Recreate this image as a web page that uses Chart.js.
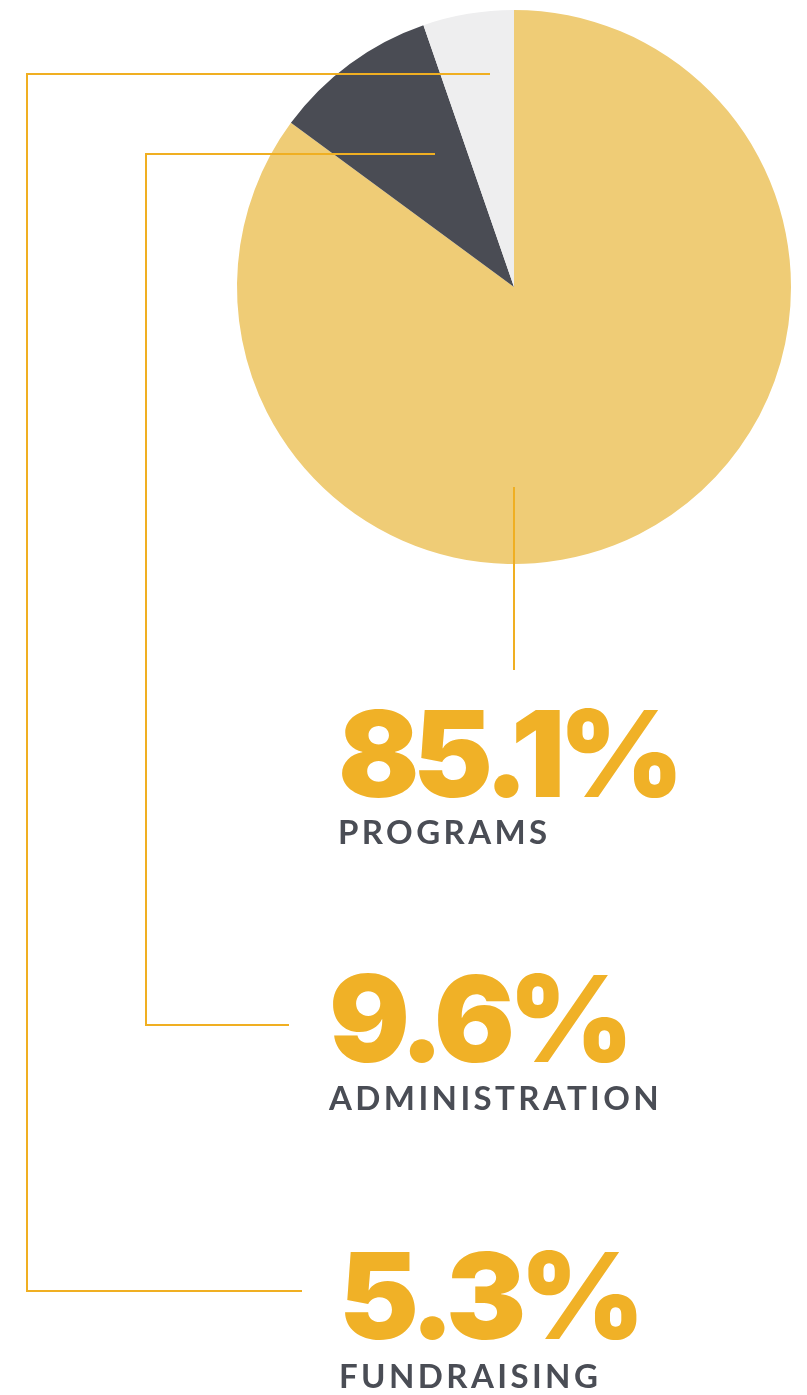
<!DOCTYPE html>
<html>
<head>
<meta charset="utf-8">
<script src="https://cdn.jsdelivr.net/npm/chart.js@4/dist/chart.umd.min.js"></script>
<style>
  html, body { margin: 0; padding: 0; background: #fff; }
  #wrap { position: relative; width: 807px; height: 1395px; overflow: hidden; }
  #pie { position: absolute; left: 0; top: 0; }
  .pct {
    position: absolute; margin: 0; white-space: nowrap;
    font-family: Inter, Lato, sans-serif; font-weight: 900; font-style: normal;
    font-size: 120px; line-height: 1; color: #F0B127;
    letter-spacing: -6.5px;
  }
  .name {
    position: absolute; margin: 0; white-space: nowrap;
    font-family: Lato, "Open Sans", sans-serif; font-weight: 700;
    font-size: 33px; line-height: 1; color: #4A4D55;
    letter-spacing: 3.4px;
  }
</style>
</head>
<body>
<div id="wrap">
  <canvas id="pie" width="807" height="1395"></canvas>
</div>
<script>
// 데이터
const categories = ['Programs', 'Administration', 'Fundraising'];
const shares = [85.1, 9.6, 5.3];

// 색상
const sliceColors = ['#EFCC76', '#4A4C54', '#EEEEEF'];
const lineColor = '#F0AF22';

// 라벨 위치 (퍼센트 상단, 이름 상단, 왼쪽)
const labelPos = [
  { left: 338, pctTop: 694, nameTop: 815 },
  { left: 329, pctTop: 959, nameTop: 1081 },
  { left: 339, pctTop: 1236, nameTop: 1359 }
];

// 지시선 (꺾은선 좌표)
const leaderLines = [
  [[514, 487], [514, 670]],
  [[435, 154], [146, 154], [146, 1025], [289, 1025]],
  [[490, 74], [27, 74], [27, 1291], [302, 1291]]
];

/**
 * 지시선 그리기
 */
const leaderPlugin = {
  id: 'leader',
  afterDatasetsDraw(chart) {
    const ctx = chart.ctx;
    ctx.save();
    ctx.strokeStyle = lineColor;
    ctx.lineWidth = 2;
    leaderLines.forEach((pts) => {
      ctx.beginPath();
      pts.forEach((p, i) => {
        if (i === 0) ctx.moveTo(p[0], p[1]);
        else ctx.lineTo(p[0], p[1]);
      });
      ctx.stroke();
    });
    ctx.restore();
  }
};

new Chart(document.getElementById('pie'), {
  type: 'pie',
  data: {
    labels: categories,
    datasets: [{
      data: shares,
      backgroundColor: sliceColors,
      borderWidth: 0
    }]
  },
  options: {
    responsive: false,
    maintainAspectRatio: false,
    animation: false,
    layout: {
      padding: { left: 237, right: 16, top: 10, bottom: 831 }
    },
    plugins: {
      legend: { display: false },
      tooltip: { enabled: false }
    }
  },
  plugins: [leaderPlugin]
});

// 라벨 텍스트
const wrap = document.getElementById('wrap');
categories.forEach((name, i) => {
  const pct = document.createElement('div');
  pct.className = 'pct';
  pct.style.left = labelPos[i].left + 'px';
  pct.style.top = labelPos[i].pctTop + 'px';
  pct.textContent = shares[i].toFixed(1) + '%';
  wrap.appendChild(pct);

  const nm = document.createElement('div');
  nm.className = 'name';
  nm.style.left = labelPos[i].left + 'px';
  nm.style.top = labelPos[i].nameTop + 'px';
  nm.textContent = name.toUpperCase();
  wrap.appendChild(nm);
});
</script>
</body>
</html>
